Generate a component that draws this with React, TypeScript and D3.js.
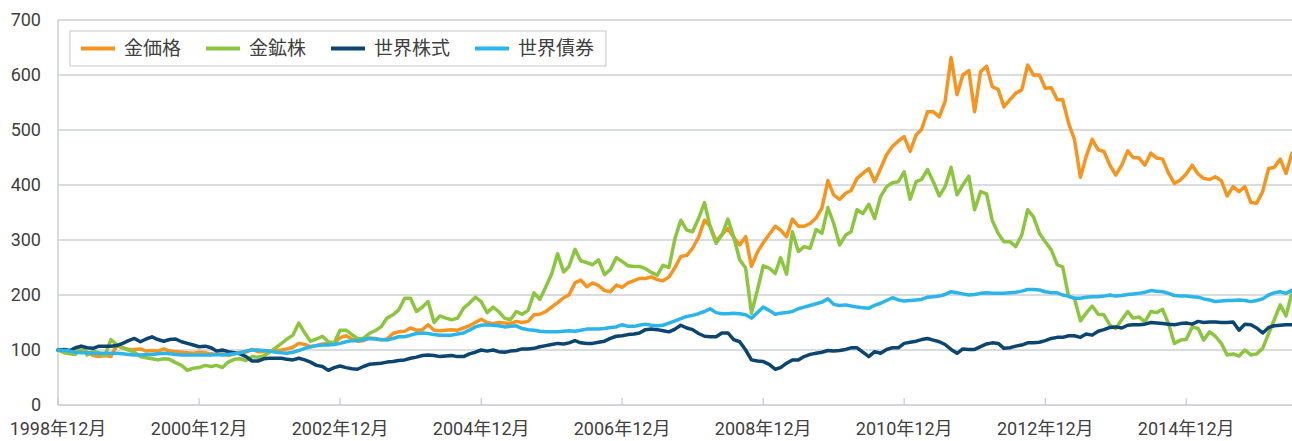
import React from 'react';
import * as d3 from 'd3';

const START = new Date(1998, 11, 1);

const seriesNames = ['金価格', '金鉱株', '世界株式', '世界債券'];
const seriesColors = ['#F7941E', '#8CC63F', '#0C4670', '#2BB5EA'];

const goldPrice = [
  100, 97, 97, 98, 101, 96, 90, 88, 90, 88, 108, 104, 101, 101, 102, 98, 99, 98, 102, 98, 97, 96, 95, 94, 96, 95, 93, 92, 93, 90, 93, 96, 96, 101, 97, 97, 98,
  99, 100, 102, 105, 112, 110, 106, 108, 111, 112, 113, 122, 126, 120, 116, 117, 122, 121, 118, 120, 130, 133, 134, 140, 136, 137, 146, 136, 135, 136, 137, 136, 140, 144, 150, 156,
  150, 148, 150, 149, 148, 152, 150, 152, 164, 165, 170, 178, 186, 195, 200, 222, 227, 215, 222, 217, 208, 206, 218, 214, 222, 226, 230, 230, 233,
  228, 226, 233, 250, 270, 272, 285, 305, 336, 325, 298, 310, 321, 305, 291, 306, 252, 278, 295, 310, 325, 318, 306, 338, 325, 325, 330, 340, 358,
  408, 382, 374, 385, 390, 412, 421, 430, 406, 430, 455, 470, 480, 488, 461, 491, 501, 533, 533, 524, 552, 632, 564, 600, 608, 533, 606, 616, 579, 574, 542, 555, 567, 573, 618, 600, 600, 576,
  577, 555, 555, 512, 483, 414, 452, 483, 464, 461, 436, 418, 436, 462, 450, 449, 436, 458, 449, 447, 421, 403, 409, 420, 436, 420, 412, 410, 415, 408, 380, 397, 388, 397, 368, 367, 388, 430, 432, 447, 421, 458,
];

const goldMiners = [
  100, 95, 93, 92, 107, 91, 98, 95, 90, 119, 110, 104, 100, 96, 88, 86, 84, 82, 84, 83, 77, 72, 63, 67, 68, 72, 70, 72, 68, 78, 83, 84, 81, 88, 87, 89, 96,
  104, 112, 120, 127, 149, 131, 116, 120, 125, 115, 113, 136, 136, 128, 121, 121, 130, 135, 142, 158, 164, 173, 194, 194, 170, 178, 188, 150, 162, 158, 155, 158, 176, 185, 196, 188,
  168, 178, 170, 158, 155, 170, 165, 172, 204, 192, 215, 238, 275, 242, 252, 283, 262, 259, 255, 264, 237, 246, 268, 261, 253, 252, 252, 248, 241, 236, 254, 250,
  303, 336, 318, 315, 339, 368, 324, 294, 309, 338, 306, 264, 249, 167, 209, 253, 249, 239, 268, 238, 315, 279, 288, 285, 319, 312,
  359, 330, 291, 309, 315, 355, 348, 365, 339, 379, 397, 404, 406, 424, 374, 406, 410, 428, 406, 380, 397, 432, 382, 400, 416, 355, 388, 384, 336, 312, 297, 297, 288, 309, 355, 342, 312, 297,
  282, 255, 251, 197, 194, 153, 167, 180, 165, 164, 145, 139, 155, 170, 158, 160, 151, 170, 168, 174, 147, 112, 118, 119, 142, 139, 118, 133, 125, 112, 91, 93, 89, 100, 91, 93, 103, 130, 155, 182, 162, 205,
];

const worldEquity = [
  100, 101, 99, 104, 107, 104, 103, 107, 107, 107, 108, 112, 117, 121, 115, 120, 124, 119, 116, 119, 120, 115, 112, 109, 106, 107, 104, 98, 100, 97, 95, 93, 88, 80,
  80, 84, 85, 85, 85, 83, 82, 85, 82, 78, 72, 70, 63, 68, 71, 68, 66, 65, 70, 74, 75, 76, 78, 79, 81, 82, 85, 87, 90, 91, 90, 88, 89, 90, 88, 88, 93, 96, 100,
  98, 100, 97, 96, 98, 99, 102, 102, 103, 106, 108, 110, 112, 111, 113, 117, 113, 112, 112, 114, 116, 121, 125, 126, 128, 129, 131, 137, 138, 137, 135, 133,
  138, 145, 140, 137, 130, 125, 124, 124, 131, 131, 119, 115, 100, 82, 80, 79, 74, 65, 68, 76, 82, 82, 88, 92, 94, 96,
  99, 98, 99, 101, 104, 104, 96, 88, 97, 94, 101, 104, 104, 112, 114, 116, 119, 121, 118, 115, 110, 101, 94, 102, 101, 101, 106, 111, 113, 112, 103, 104, 107, 109, 113, 113, 114, 117,
  121, 123, 123, 126, 126, 123, 129, 127, 134, 137, 141, 142, 140, 145, 146, 146, 147, 150, 149, 148, 147, 146, 148, 149, 147, 152, 150, 151, 151, 150, 150, 151, 136, 147, 146, 140, 131, 141, 144, 145, 146, 146,
];

const worldBonds = [
  100, 99, 98, 96, 95, 95, 94, 94, 94, 94, 94, 93, 92, 91, 91, 92, 92, 93, 94, 93, 92, 91, 91, 91, 91, 91, 91, 92, 91, 92, 93, 95, 98, 100, 100, 99, 98,
  96, 95, 94, 96, 99, 103, 106, 108, 109, 109, 110, 112, 115, 117, 117, 119, 121, 120, 119, 118, 121, 124, 124, 127, 130, 131, 130, 128, 127, 127, 127, 129, 131, 136, 142, 145,
  146, 145, 144, 142, 143, 144, 139, 137, 136, 134, 133, 133, 133, 134, 135, 134, 136, 138, 138, 138, 139, 141, 142, 146, 143, 143, 145, 147, 145, 144, 145, 149,
  153, 157, 161, 163, 166, 170, 175, 168, 166, 166, 167, 166, 164, 158, 168, 178, 172, 165, 167, 168, 170, 175, 178, 181, 184, 187,
  193, 183, 181, 182, 180, 178, 177, 176, 181, 185, 190, 195, 191, 189, 190, 191, 192, 196, 197, 198, 201, 206, 204, 202, 200, 201, 203, 204, 203, 203, 203, 204, 205, 207, 210, 210, 209, 206,
  204, 204, 200, 198, 194, 194, 196, 197, 197, 198, 200, 198, 199, 201, 202, 203, 205, 208, 207, 206, 203, 199, 198, 198, 197, 196, 193, 191, 188, 189, 190, 190, 191, 190, 188, 190, 193, 200, 204, 206, 203, 209,
];

const yTicks = [0, 100, 200, 300, 400, 500, 600, 700];
const xTickYears = [1998, 2000, 2002, 2004, 2006, 2008, 2010, 2012, 2014];
const xTickLabels = xTickYears.map((yr) => `${yr}年12月`);

const FONT = '"Liberation Sans Narrow", "Roboto", "Noto Sans CJK JP", sans-serif';
const CJK = '"Noto Sans CJK JP", sans-serif';

export default function App() {
  const W = 1292;
  const H = 441;
  const m = { left: 58, right: 0, top: 20, bottom: 36 };
  const series = [goldPrice, goldMiners, worldEquity, worldBonds];
  const n = goldPrice.length;
  const dates = d3.range(n).map((i) => d3.timeMonth.offset(START, i));
  const x = d3.scaleTime().domain([dates[0], dates[n - 1]]).range([m.left, W - m.right]);
  const y = d3.scaleLinear().domain([0, 700]).range([H - m.bottom, m.top]);
  const line = d3
    .line<number>()
    .x((_, i) => x(dates[i]))
    .y((d) => y(d));

  const gridColor = '#cdd1d6';
  const textColor = '#404040';

  const legendX = 70;
  const legendY = 31;
  const legendH = 35;
  const charW = 19;
  let cursor = legendX + 11;
  const legendItems = seriesNames.map((name, i) => {
    const item = { name, color: seriesColors[i], lx: cursor, tx: cursor + 43 };
    cursor = item.tx + name.length * charW + 25;
    return item;
  });
  const legendW = cursor - 25 + 12 - legendX;

  return (
    <svg
      width={W}
      height={H}
      style={{ position: 'absolute', left: 0, top: 0, background: '#fff' }}
      xmlns="http://www.w3.org/2000/svg"
    >
      {yTicks.slice(1).map((t) => (
        <line key={t} x1={m.left} x2={W - m.right} y1={y(t)} y2={y(t)} stroke={gridColor} strokeWidth={1.5} />
      ))}
      <line x1={m.left} x2={m.left} y1={y(700)} y2={y(0)} stroke={gridColor} strokeWidth={1.5} />
      <line x1={m.left} x2={W - m.right} y1={y(0)} y2={y(0)} stroke="#c3cad2" strokeWidth={1.5} />
      {xTickYears.map((yr, i) => {
        const xp = x(new Date(yr, 11, 1));
        return (
          <g key={yr}>
            <line x1={xp} x2={xp} y1={y(0) - 7} y2={y(0)} stroke="#c3cad2" strokeWidth={1.2} />
            <text x={xp} y={435} textAnchor="middle" fontFamily={FONT} fontSize={18} fill={textColor}>
              {xTickLabels[i]}
            </text>
          </g>
        );
      })}
      {yTicks.map((t) => (
        <text key={t} x={41} y={y(t)} dy="0.35em" textAnchor="end" fontFamily={FONT} fontSize={18} fill={textColor}>
          {t}
        </text>
      ))}
      {series.map((s, i) => (
        <path
          key={seriesNames[i]}
          d={line(s) || ''}
          fill="none"
          stroke={seriesColors[i]}
          strokeWidth={3.5}
          strokeLinejoin="round"
          strokeLinecap="round"
        />
      ))}
      <rect x={legendX} y={legendY} width={legendW} height={legendH} fill="#fff" stroke={gridColor} strokeWidth={1.2} />
      {legendItems.map((it) => (
        <g key={it.name}>
          <line
            x1={it.lx}
            x2={it.lx + 34}
            y1={legendY + legendH / 2}
            y2={legendY + legendH / 2}
            stroke={it.color}
            strokeWidth={4}
          />
          <text x={it.tx} y={legendY + legendH / 2} dy="0.36em" fontFamily={CJK} fontSize={19} fill={textColor}>
            {it.name}
          </text>
        </g>
      ))}
    </svg>
  );
}
